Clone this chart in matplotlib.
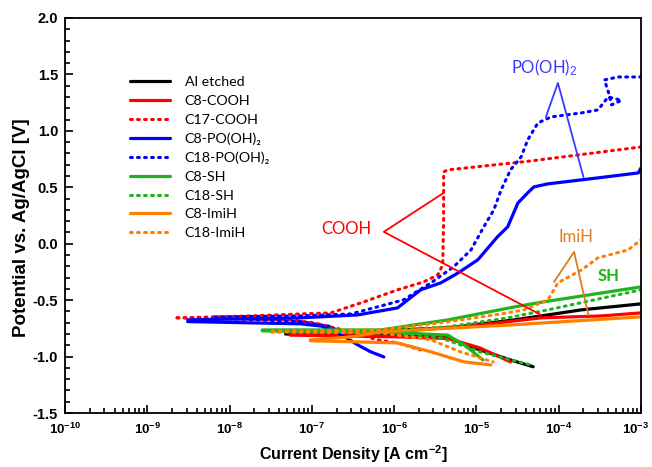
import matplotlib
matplotlib.use("Agg")
import matplotlib.pyplot as plt
import matplotlib.transforms as mtransforms
from matplotlib.ticker import FixedLocator, FixedFormatter, MultipleLocator, LogLocator, NullFormatter

plt.rcParams["font.family"] = ["Liberation Sans", "DejaVu Sans"]
plt.rcParams["mathtext.fontset"] = "custom"
plt.rcParams["mathtext.rm"] = "Liberation Sans"
plt.rcParams["mathtext.bf"] = "Liberation Sans:bold"
plt.rcParams["mathtext.it"] = "Liberation Sans:italic"
plt.rcParams["axes.unicode_minus"] = False

# ---- data: current density [A cm-2], potential [V] ----
# Al etched
al_an_i = [4.8e-8, 6.9e-7, 4.5e-6, 2.9e-5, 1.9e-4, 1.0e-3]
al_an_e = [-0.79, -0.77, -0.746, -0.675, -0.586, -0.533]
al_ca_i = [4.8e-8, 6.9e-7, 2.8e-6, 4.5e-6, 1.1e-5, 2.6e-5, 4.9e-5]
al_ca_e = [-0.80, -0.81, -0.82, -0.834, -0.94, -1.03, -1.09]

# C8-COOH
c8cooh_an_i = [5.5e-8, 6.9e-7, 1.1e-5, 6.1e-5, 3.3e-4, 1.0e-3]
c8cooh_an_e = [-0.80, -0.79, -0.72, -0.657, -0.64, -0.613]
c8cooh_ca_i = [5.5e-8, 1.2e-6, 4.5e-6, 1.1e-5, 1.8e-5, 2.6e-5]
c8cooh_ca_e = [-0.81, -0.826, -0.84, -0.923, -0.994, -1.047]

# C17-COOH
c17cooh_an_i = [2.3e-9, 1.8e-8, 7.3e-8, 1.7e-7, 4.3e-7, 1.1e-6, 2.3e-6, 3.4e-6,
                3.9e-6, 4.0e-6, 4.0e-6, 4.5e-6, 4.6e-5, 1.0e-3]
c17cooh_an_e = [-0.657, -0.64, -0.622, -0.613, -0.515, -0.409, -0.338, -0.276,
                -0.188, 0.211, 0.636, 0.654, 0.733, 0.857]
c17cooh_ca_i = [2.3e-9, 5.5e-8, 1.05e-7, 2.4e-7, 6.3e-7, 1.1e-6, 2.1e-6]
c17cooh_ca_e = [-0.657, -0.675, -0.70, -0.764, -0.852, -0.879, -0.941]

# C8-PO(OH)2
c8po_an_i = [3.1e-9, 7.3e-8, 3.6e-7, 1.1e-6, 2.1e-6, 3.7e-6, 6.0e-6, 1.04e-5,
             1.8e-5, 2.4e-5, 3.2e-5, 4.2e-5, 5.0e-5, 7.4e-5, 1.16e-4, 3.0e-4,
             9.3e-4, 1.0e-3]
c8po_an_e = [-0.675, -0.657, -0.631, -0.569, -0.409, -0.347, -0.259, -0.143,
             0.06, 0.149, 0.361, 0.45, 0.503, 0.53, 0.547, 0.583, 0.627, 0.671]
c8po_ca_i = [3.1e-9, 7.3e-8, 1.3e-7, 2.1e-7, 3.6e-7, 5.2e-7, 7.5e-7]
c8po_ca_e = [-0.69, -0.71, -0.73, -0.79, -0.896, -0.958, -1.003]

# C18-PO(OH)2
c18po_an_i = [6.7e-9, 7.3e-8, 3.0e-7, 1.3e-6, 2.8e-6, 5.3e-6, 8.6e-6, 1.23e-5,
              1.63e-5, 2.0e-5, 2.6e-5, 3.5e-5, 4.2e-5, 5.6e-5, 8.1e-5, 1.9e-4,
              3.0e-4, 4.0e-4, 5.8e-4, 4.4e-4, 4.0e-4, 3.6e-4, 5.3e-4, 1.0e-3]
c18po_an_e = [-0.648, -0.64, -0.622, -0.498, -0.347, -0.205, -0.055, 0.149,
              0.30, 0.477, 0.654, 0.769, 0.919, 1.07, 1.123, 1.159,
              1.185, 1.30, 1.27, 1.23, 1.35, 1.451, 1.477, 1.477]
c18po_ca_i = [6.7e-9, 7.3e-8, 1.6e-7, 2.4e-7]
c18po_ca_e = [-0.66, -0.69, -0.73, -0.79]

# C8-SH
c8sh_an_i = [2.5e-8, 6.9e-7, 4.5e-6, 2.9e-5, 6.6e-5, 1.0e-3]
c8sh_an_e = [-0.764, -0.764, -0.675, -0.56, -0.515, -0.383]
c8sh_ca_i = [2.5e-8, 6.9e-7, 4.5e-6, 7.4e-6, 1.2e-5]
c8sh_ca_e = [-0.772, -0.781, -0.81, -0.905, -1.03]

# C18-SH
c18sh_an_i = [3.2e-8, 6.9e-7, 4.5e-6, 2.4e-5, 7.4e-5, 1.0e-3]
c18sh_an_e = [-0.772, -0.772, -0.737, -0.657, -0.586, -0.409]
c18sh_ca_i = [3.2e-8, 6.9e-7, 3.7e-6, 1.1e-5, 4.6e-5]
c18sh_ca_e = [-0.781, -0.79, -0.834, -0.958, -1.074]

# C8-ImiH
c8imi_an_i = [9.6e-8, 3.0e-7, 6.9e-7, 2.6e-5, 1.0e-3]
c8imi_an_e = [-0.852, -0.826, -0.781, -0.72, -0.648]
c8imi_ca_i = [9.6e-8, 1.1e-6, 2.8e-6, 7.1e-6, 1.5e-5]
c8imi_ca_e = [-0.86, -0.879, -0.958, -1.047, -1.074]

# C18-ImiH
c18imi_an_i = [3.3e-8, 6.9e-7, 4.5e-6, 2.0e-5, 3.8e-5, 7.4e-5, 9.8e-5, 1.9e-4,
               3.0e-4, 7.0e-4, 1.0e-3]
c18imi_an_e = [-0.772, -0.764, -0.692, -0.622, -0.586, -0.498, -0.347, -0.232,
               -0.126, -0.055, 0.034]
c18imi_ca_i = [3.3e-8, 6.9e-7, 2.8e-6, 6.4e-6, 1.6e-5]
c18imi_ca_e = [-0.781, -0.79, -0.852, -0.958, -1.047]

x_ticks = [1e-10, 1e-9, 1e-8, 1e-7, 1e-6, 1e-5, 1e-4, 1e-3]
x_labels = [r"$\mathbf{10^{-10}}$", r"$\mathbf{10^{-9}}$", r"$\mathbf{10^{-8}}$",
            r"$\mathbf{10^{-7}}$", r"$\mathbf{10^{-6}}$", r"$\mathbf{10^{-5}}$",
            r"$\mathbf{10^{-4}}$", r"$\mathbf{10^{-3}}$"]

RED = "#ff0000"
BLUE = "#0000ff"
GREEN = "#1db41d"
ORANGE = "#ff8000"

fig = plt.figure(figsize=(6.52, 4.67), dpi=100)
ax = fig.add_axes([0.0997, 0.1156, 0.8833, 0.846])

solid = dict(lw=2.3, solid_capstyle="round")
dotted = dict(lw=2.2, ls=(0, (0.6, 1.7)), dash_capstyle="round")

curves = [
    ("Al etched", "black", solid, al_an_i, al_an_e, al_ca_i, al_ca_e),
    ("C8-COOH", RED, solid, c8cooh_an_i, c8cooh_an_e, c8cooh_ca_i, c8cooh_ca_e),
    ("C17-COOH", RED, dotted, c17cooh_an_i, c17cooh_an_e, c17cooh_ca_i, c17cooh_ca_e),
    ("C8-PO(OH)\u2082", BLUE, solid, c8po_an_i, c8po_an_e, c8po_ca_i, c8po_ca_e),
    ("C18-PO(OH)\u2082", BLUE, dotted, c18po_an_i, c18po_an_e, c18po_ca_i, c18po_ca_e),
    ("C8-SH", GREEN, solid, c8sh_an_i, c8sh_an_e, c8sh_ca_i, c8sh_ca_e),
    ("C18-SH", GREEN, dotted, c18sh_an_i, c18sh_an_e, c18sh_ca_i, c18sh_ca_e),
    ("C8-ImiH", ORANGE, solid, c8imi_an_i, c8imi_an_e, c8imi_ca_i, c8imi_ca_e),
    ("C18-ImiH", ORANGE, dotted, c18imi_an_i, c18imi_an_e, c18imi_ca_i, c18imi_ca_e),
]

for label, color, style, ai, ae, ci, ce in curves:
    ax.plot(ai, ae, color=color, label=label, **style)
    ax.plot(ci, ce, color=color, **style)

# annotation lines
ax.plot([4.0e-6, 7.5e-7, 6.1e-5], [0.45, 0.105, -0.631], color=RED, lw=1.3)
ax.text(2.6e-7, 0.13, "COOH", color=RED, fontsize=12, family="Lato",
        ha="center", va="center")
ax.plot([7.0e-5, 9.8e-5, 2.0e-4], [1.123, 1.424, 0.592], color="#3a3aff", lw=1.3)
ax.text(6.6e-5, 1.56, "PO(OH)$_2$", color="#3a3aff", fontsize=12, family="Lato",
        ha="center", va="center")
ax.plot([8.8e-5, 1.54e-4, 2.3e-4], [-0.338, -0.073, -0.631], color="#e07b20", lw=1.3)
ax.text(1.63e-4, 0.06, "ImiH", color="#e07b20", fontsize=12, family="Lato",
        ha="center", va="center")
ax.text(4.1e-4, -0.29, "SH", color=GREEN, fontsize=12, family="Lato",
        fontweight="bold", ha="center", va="center")

ax.set_xscale("log")
ax.set_xlim(1e-10, 1e-3)
ax.set_ylim(-1.5, 2.0)
ax.xaxis.set_major_locator(FixedLocator(x_ticks))
ax.xaxis.set_major_formatter(FixedFormatter(x_labels))
ax.xaxis.set_minor_locator(LogLocator(base=10, subs=range(2, 10), numticks=20))
ax.xaxis.set_minor_formatter(NullFormatter())
ax.yaxis.set_major_locator(MultipleLocator(0.5))
ax.yaxis.set_minor_locator(MultipleLocator(0.1))
ax.yaxis.set_major_formatter(plt.FormatStrFormatter("%.1f"))
ax.tick_params(which="both", direction="in", top=False, right=False, width=1.2)
ax.tick_params(which="major", length=6, pad=5)
ax.tick_params(axis="y", which="major", labelsize=10.5)
ax.tick_params(axis="x", which="major", labelsize=9.5, pad=6)
ax.tick_params(which="minor", length=3.5)
for lab in ax.get_yticklabels():
    lab.set_fontweight("bold")
for sp in ax.spines.values():
    sp.set_linewidth(1.3)

# keep the last x tick label inside the canvas
last = ax.get_xticklabels()[-1]
last.set_transform(last.get_transform() +
                   mtransforms.ScaledTranslation(-5 / 100, 0, fig.dpi_scale_trans))

ax.set_xlabel(r"Current Density [A cm$^{\mathbf{-2}}$]", fontsize=11.5,
              fontweight="bold", labelpad=5)
ax.set_ylabel("Potential vs. Ag/AgCl [V]", fontsize=13.5, fontweight="bold")
ax.yaxis.set_label_coords(-0.06, 0.47)

leg = ax.legend(loc="upper left", bbox_to_anchor=(0.09, 0.885), frameon=False,
                prop={"family": ["Lato", "DejaVu Sans"], "size": 10.3},
                handlelength=2.8, handletextpad=1.05, labelspacing=0.47)

fig.savefig("out.png", dpi=100)
